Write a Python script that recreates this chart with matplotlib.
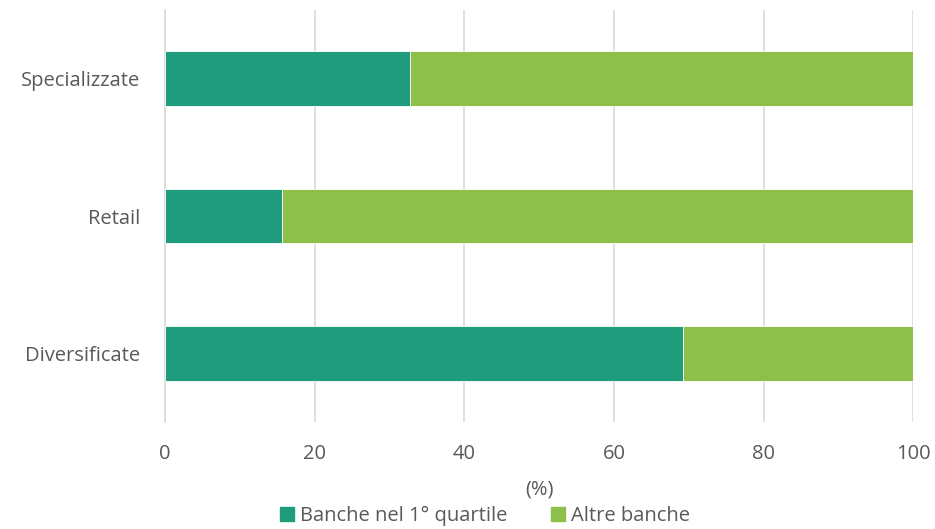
import matplotlib
matplotlib.use("Agg")
import matplotlib.pyplot as plt
from matplotlib.patches import Patch

categories = ["Diversificate", "Retail", "Specializzate"]
primo_quartile = [69.2, 15.6, 32.7]
altre_banche = [30.8, 84.4, 67.3]
x_ticks = [0, 20, 40, 60, 80, 100]

C_DARK = "#1E9C7B"
C_LIGHT = "#8CC04B"
C_TEXT = "#595959"
C_GRID = "#D9D9D9"
FS = 14.5

plt.rcParams["font.family"] = ["Open Sans", "DejaVu Sans"]

fig = plt.figure(figsize=(9.35, 5.29), dpi=100)
ax = fig.add_axes([165 / 935, 1 - 422 / 529, (913.3 - 165) / 935, 412 / 529])

ypos = range(len(categories))
ax.barh(ypos, primo_quartile, height=0.4, color=C_DARK, edgecolor="white", linewidth=0.6, zorder=3)
ax.barh(ypos, altre_banche, left=primo_quartile, height=0.4, color=C_LIGHT,
        edgecolor="white", linewidth=0.6, zorder=3)

ax.set_xlim(0, 100)
ax.set_ylim(-0.5, len(categories) - 0.5)
ax.set_xticks(x_ticks)
ax.set_yticks(list(ypos))
ax.set_yticklabels(categories)
ax.tick_params(axis="both", length=0, labelsize=FS, colors=C_TEXT)
ax.tick_params(axis="x", pad=16)
ax.tick_params(axis="y", pad=18)
ax.grid(axis="x", color=C_GRID, linewidth=1.2, zorder=0)
for side in ("top", "right", "bottom"):
    ax.spines[side].set_visible(False)
ax.spines["left"].set_color(C_GRID)
ax.spines["left"].set_linewidth(1.2)

fig.text((165 + 913.3) / 2 / 935, 1 - 490 / 529, "(%)", ha="center", va="center",
         fontsize=FS, color=C_TEXT)

handles = [Patch(color=C_DARK, label="Banche nel 1° quartile"),
           Patch(color=C_LIGHT, label="Altre banche")]
fig.legend(handles=handles, loc="center", bbox_to_anchor=(485 / 935, 1 - 516 / 529),
           ncol=2, frameon=False, fontsize=FS, labelcolor=C_TEXT,
           handlelength=0.7, handleheight=0.7, handletextpad=0.3, columnspacing=2.2,
           borderpad=0)

fig.savefig("out.png", dpi=100)
